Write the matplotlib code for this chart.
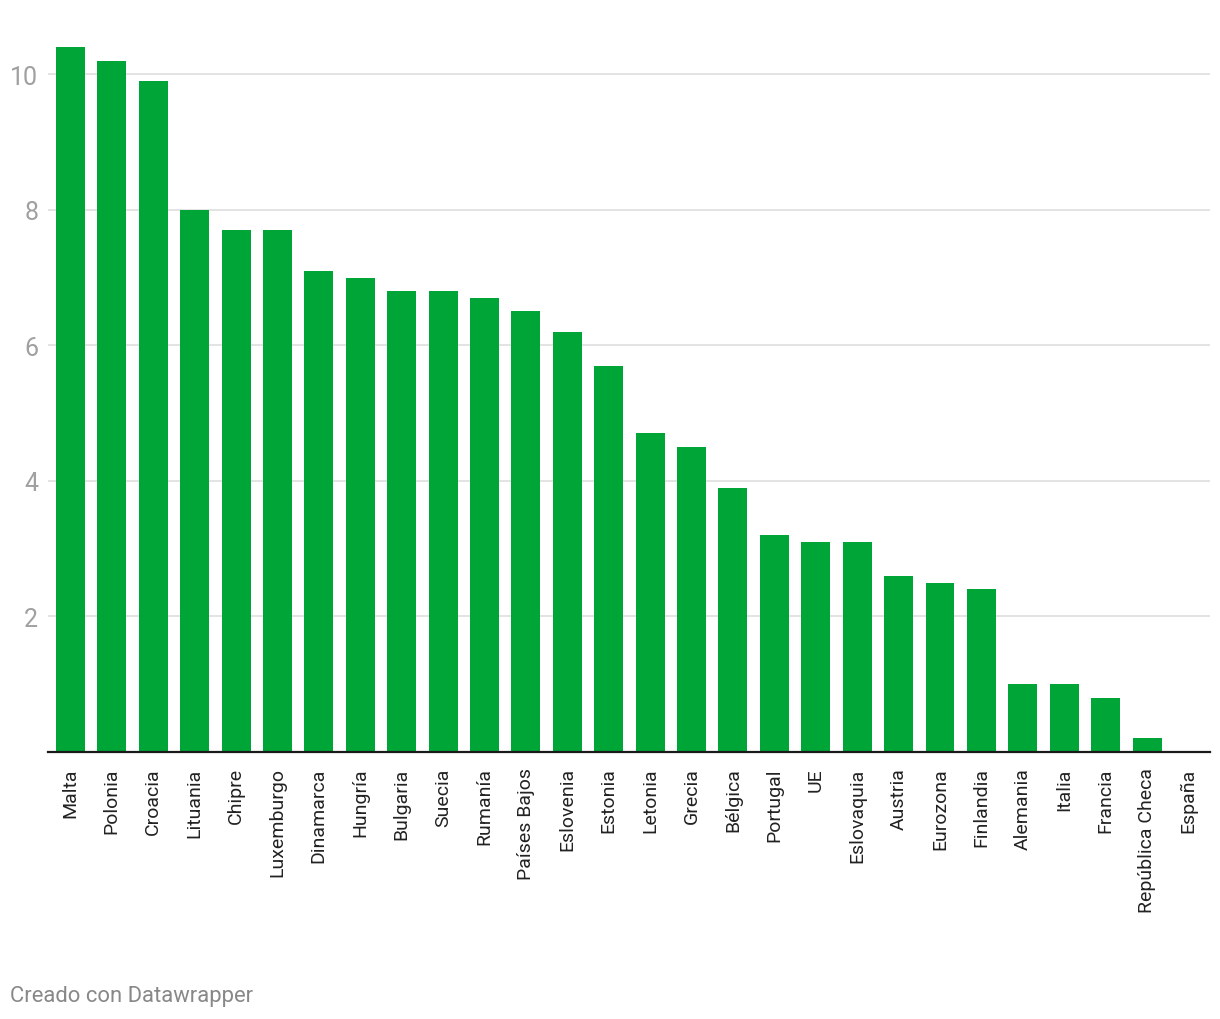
import matplotlib

matplotlib.use("Agg")
import matplotlib.pyplot as plt

countries = ["Malta", "Polonia", "Croacia", "Lituania", "Chipre", "Luxemburgo",
             "Dinamarca", "Hungría", "Bulgaria", "Suecia", "Rumanía", "Países Bajos",
             "Eslovenia", "Estonia", "Letonia", "Grecia", "Bélgica", "Portugal", "UE",
             "Eslovaquia", "Austria", "Eurozona", "Finlandia", "Alemania", "Italia",
             "Francia", "República Checa", "España"]
values = [10.4, 10.2, 9.9, 8.0, 7.7, 7.7, 7.1, 7.0, 6.8, 6.8, 6.7, 6.5,
          6.2, 5.7, 4.7, 4.5, 3.9, 3.2, 3.1, 3.1, 2.6, 2.5, 2.4, 1.0, 1.0,
          0.8, 0.2, 0.0]
yticks = [2, 4, 6, 8, 10]

plt.rcParams["font.family"] = ["Roboto", "DejaVu Sans"]

W, H = 1220, 1020
fig = plt.figure(figsize=(W / 100, H / 100), dpi=100, facecolor="white")
ax = fig.add_axes([48 / W, 1 - 753 / H, (1210 - 48) / W, (753 - 40) / H])

x = list(range(len(countries)))
ax.bar(x, values, width=0.7, color="#00A537", zorder=2)

ax.set_xlim(-0.54, len(countries) - 0.48)
ax.set_ylim(0, 10.52)
ax.set_yticks(yticks)
ax.set_yticklabels([str(t) for t in yticks])
ax.grid(axis="y", color="#e3e3e3", linewidth=1.4, zorder=0)
ax.set_axisbelow(True)

ax.set_xticks(x)
ax.set_xticklabels(countries, rotation=90, va="top", ha="center")
ax.tick_params(axis="x", length=0, pad=11, labelsize=14, labelcolor="#222222")
ax.tick_params(axis="y", length=0, pad=7, labelsize=18, labelcolor="#a0a0a0")

for side in ["top", "right", "left"]:
    ax.spines[side].set_visible(False)
ax.spines["bottom"].set_color("#1a1a1a")
ax.spines["bottom"].set_linewidth(1.6)
ax.spines["bottom"].set_zorder(3)

fig.text(10 / W, 1 - 997 / H, "Creado con Datawrapper", fontsize=15.8,
         color="#888888", ha="left", va="center")

fig.savefig("out.png", dpi=100, facecolor="white")
